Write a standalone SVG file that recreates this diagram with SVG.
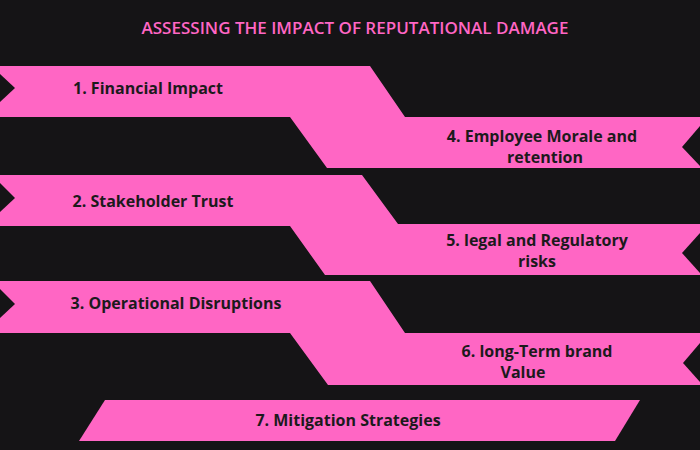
<svg xmlns="http://www.w3.org/2000/svg" width="700" height="450" viewBox="0 0 700 450">
<style>
.r{fill:#ff66c4}
.n{fill:#151416}
text{font-family:"Open Sans","Liberation Sans",sans-serif;font-weight:bold;font-size:16px;fill:#1c1a1c;text-anchor:middle}
.t{fill:#ff66c4;font-size:17px;font-weight:600}
</style>
<rect width="700" height="450" fill="#151416"/>
<text class="t" x="355" y="34">ASSESSING THE IMPACT OF REPUTATIONAL DAMAGE</text>
<g id="ribbon1">
<polygon class="r" points="0,66 370,66 405,117 700,117 700,168 327,168 290,117 0,117"/>
<polygon class="n" points="0,74 15,88 0,102"/>
<polygon class="n" points="700,126 682,147 700,166"/>
<text x="148" y="94">1. Financial Impact</text>
<text x="542" y="142">4. Employee Morale and</text>
<text x="545" y="163">retention</text>
</g>
<g id="ribbon2">
<polygon class="r" points="0,175 362,175 398,224 700,224 700,275 325,275 290,226 0,226"/>
<polygon class="n" points="0,183 15,198 0,212"/>
<polygon class="n" points="700,233 682,253 700,273"/>
<text x="153" y="207">2. Stakeholder Trust</text>
<text x="537" y="246">5. legal and Regulatory</text>
<text x="537" y="267">risks</text>
</g>
<g id="ribbon3">
<polygon class="r" points="0,281 370,281 405,333 700,333 700,385 328,385 290,333 0,333"/>
<polygon class="n" points="0,289 15,304 0,318"/>
<polygon class="n" points="700,343 683,363 700,382"/>
<text x="176" y="309">3. Operational Disruptions</text>
<text x="537" y="357">6. long-Term brand</text>
<text x="523" y="378">Value</text>
</g>
<g id="node7">
<polygon class="r" points="105,400 640,400 615,441 79,441"/>
<text x="348" y="426">7. Mitigation Strategies</text>
</g>
<g id="connectors"/>
</svg>
